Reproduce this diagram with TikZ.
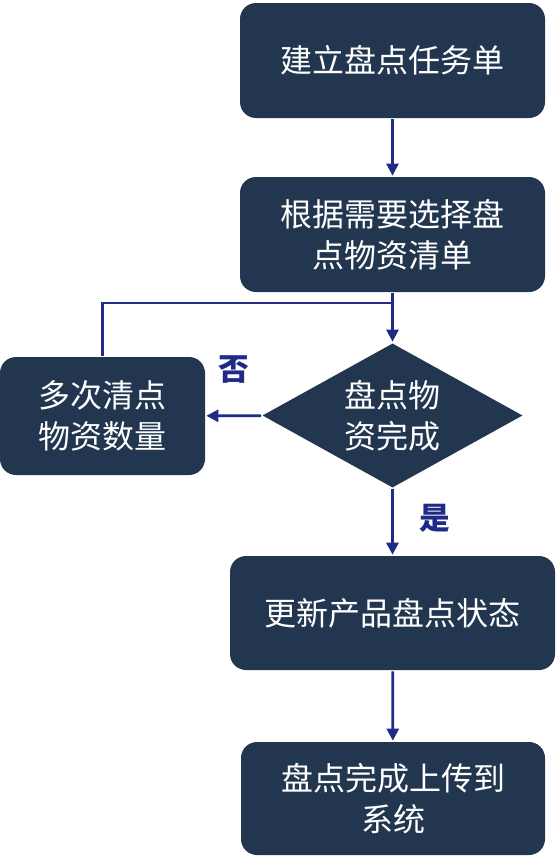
\documentclass[tikz,border=0pt]{standalone}
\usepackage{fontspec}
\newfontfamily\cjk{Noto Sans CJK SC}
\usetikzlibrary{arrows.meta, shapes.geometric}

\definecolor{boxfill}{HTML}{22374F}
\definecolor{linkblue}{HTML}{1F2B86}

\tikzset{
    box/.style = {fill=boxfill, rounded corners=12pt, text=white, align=center,
        font=\cjk\fontsize{24}{31}\selectfont, inner sep=0pt},
    decision/.style = {diamond, fill=boxfill, text=white, align=center, aspect=1.8,
        font=\cjk\fontsize{24}{31}\selectfont, inner sep=0pt},
    link/.style = {->, linkblue},
    answer/.style = {text=linkblue, font=\cjk\bfseries\fontsize{23}{26}\selectfont}
}

\begin{document}
\begin{tikzpicture}[x=0.75pt, y=-0.75pt, >={Triangle[length=9pt, width=9pt]}, line width=2pt]
    \useasboundingbox (0,0) rectangle (559,860);

    % 流程节点
    \node[box, minimum width=228.75pt, minimum height=86.25pt] (TaskList) at (392.5,60.5) {建立盘点任务单};
    \node[box, minimum width=228.75pt, minimum height=86.25pt] (SelectList) at (392.5,234.5) {根据需要选择盘\\点物资清单};
    \node[decision, minimum width=195.75pt, minimum height=108.75pt] (Check) at (392.5,415.5) {盘点物\\资完成};
    \node[box, minimum width=153.75pt, minimum height=88.5pt] (Recount) at (102.5,416) {多次清点\\物资数量};
    \node[box, minimum width=243.75pt, minimum height=85.5pt] (UpdateState) at (392.5,613) {更新产品盘点状态};
    \node[box, minimum width=228pt, minimum height=84.75pt] (Upload) at (393,798.5) {盘点完成上传到\\系统};

    % 回流汇合点
    \coordinate (Join) at (392.5,303);

    % 连接线
    \draw[link] (TaskList) -- (SelectList);
    \draw[link] (SelectList) -- (Check);
    \draw[link] (Check) -- (Recount);
    \draw[linkblue] (Recount.north) |- (Join);
    \draw[link] (Check) -- (UpdateState);
    \draw[link] (UpdateState) -- (Upload);

    % 判断标签
    \node[answer] (No) at (234,370) {否};
    \node[answer] (Yes) at (435,518) {是};

\end{tikzpicture}
\end{document}
